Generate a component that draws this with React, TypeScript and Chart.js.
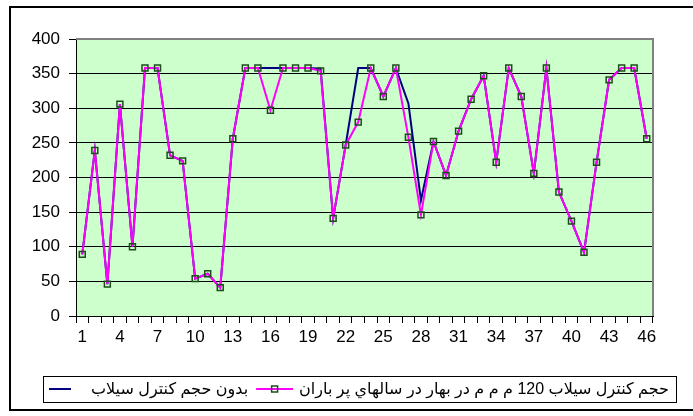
import { useEffect, useRef } from "react";
import { Chart, registerables } from "chart.js";

Chart.register(...registerables);

const categories = [
  "1", "2", "3", "4", "5", "6", "7", "8", "9", "10",
  "11", "12", "13", "14", "15", "16", "17", "18", "19", "20",
  "21", "22", "23", "24", "25", "26", "27", "28", "29", "30",
  "31", "32", "33", "34", "35", "36", "37", "38", "39", "40",
  "41", "42", "43", "44", "45", "46",
];

// بدون حجم کنترل سیلاب
const withoutControl = [
  89, 239, 46, 306, 100, 358, 358, 232, 224, 54,
  61, 41, 256, 358, 358, 358, 358, 358, 358, 357,
  141, 247, 358, 358, 317, 358, 307, 167, 252, 203,
  267, 313, 347, 222, 358, 317, 206, 358, 179, 137,
  92, 222, 341, 358, 358, 256,
];

// حجم کنترل سیلاب 120 م م م در بهار در سالهاي پر باران
const withControl = [
  89, 239, 46, 306, 100, 358, 358, 232, 224, 54,
  61, 41, 256, 358, 358, 297, 358, 358, 358, 354,
  141, 247, 280, 358, 317, 358, 258, 146, 252, 203,
  267, 313, 347, 222, 358, 317, 206, 358, 179, 137,
  92, 222, 341, 358, 358, 256,
];

const seriesNames = [
  "بدون حجم کنترل سیلاب",
  "حجم کنترل سیلاب 120 م م م در بهار در سالهاي پر باران",
];

const yMin = 0;
const yMax = 400;
const yStep = 50;
const xLabelEvery = 3;

const NAVY = "#000080";
const MAGENTA = "#FF00FF";
const MARKER_BORDER = "#1b4d1b";
const FONT = '"Liberation Sans", Arial, "DejaVu Sans", sans-serif';

const framePlugin = {
  id: "frame",
  beforeDraw(chart: any) {
    const { ctx, chartArea } = chart;
    ctx.save();
    ctx.fillStyle = "#ffffff";
    ctx.fillRect(0, 0, chart.width, chart.height);
    ctx.fillStyle = "#CCFFCC";
    ctx.fillRect(chartArea.left, chartArea.top, chartArea.right - chartArea.left, chartArea.bottom - chartArea.top);
    ctx.restore();
  },
  afterDraw(chart: any) {
    const { ctx, chartArea } = chart;
    ctx.save();
    // plot area top/right border (gray)
    ctx.strokeStyle = "#808080";
    ctx.lineWidth = 2;
    ctx.beginPath();
    ctx.moveTo(chartArea.left, chartArea.top);
    ctx.lineTo(chartArea.right, chartArea.top);
    ctx.lineTo(chartArea.right, chartArea.bottom);
    ctx.stroke();
    // outer chart border
    ctx.strokeStyle = "#000000";
    ctx.lineWidth = 2;
    ctx.strokeRect(10, 7, chart.width + 10, chart.height - 13);

    // legend
    const boxLeft = 43;
    const boxRight = 676;
    const boxTop = 376;
    const boxBottom = 402;
    ctx.lineWidth = 1;
    ctx.strokeRect(boxLeft + 0.5, boxTop + 0.5, boxRight - boxLeft, boxBottom - boxTop);
    const cy = (boxTop + boxBottom) / 2;
    ctx.font = `16px ${FONT}`;
    ctx.fillStyle = "#000";
    ctx.textBaseline = "middle";
    ctx.textAlign = "left";
    (ctx as any).direction = "rtl";

    let x = boxLeft + 6;
    // navy symbol
    ctx.strokeStyle = NAVY;
    ctx.lineWidth = 2;
    ctx.beginPath();
    ctx.moveTo(x, cy);
    ctx.lineTo(x + 22, cy);
    ctx.stroke();
    x += 22 + 20;
    const w1 = ctx.measureText(seriesNames[0]).width;
    ctx.fillText(seriesNames[0], x, cy + 1);
    x += w1 + 8;
    // magenta symbol
    ctx.strokeStyle = MAGENTA;
    ctx.beginPath();
    ctx.moveTo(x, cy);
    ctx.lineTo(x + 37, cy);
    ctx.stroke();
    ctx.strokeStyle = MARKER_BORDER;
    ctx.lineWidth = 1.5;
    ctx.strokeRect(x + 18.5 - 3, cy - 3, 6, 6);
    x += 37 + 6;
    ctx.fillText(seriesNames[1], x, cy + 1);
    ctx.restore();
  },
};

export default function App() {
  const ref = useRef<HTMLCanvasElement | null>(null);

  useEffect(() => {
    if (!ref.current) return;
    const chart = new Chart(ref.current, {
      type: "line",
      data: {
        labels: categories,
        datasets: [
          {
            label: seriesNames[0],
            data: withoutControl,
            borderColor: NAVY,
            backgroundColor: NAVY,
            borderWidth: 2,
            pointRadius: 0,
            tension: 0,
            order: 1,
          },
          {
            label: seriesNames[1],
            data: withControl,
            borderColor: MAGENTA,
            backgroundColor: "rgba(0,0,0,0)",
            borderWidth: 2,
            pointStyle: "rect",
            pointRadius: 4.2,
            pointBorderColor: MARKER_BORDER,
            pointBackgroundColor: "rgba(0,0,0,0)",
            pointBorderWidth: 1.5,
            tension: 0,
            order: 0,
          },
        ],
      },
      options: {
        responsive: false,
        animation: false,
        devicePixelRatio: 1,
        layout: { padding: { left: 0, right: 40, top: 39, bottom: 0 } },
        plugins: {
          legend: { display: false },
          tooltip: { enabled: false },
        },
        scales: {
          x: {
            type: "category",
            offset: true,
            afterFit: (s: any) => {
              s.height = 100;
            },
            grid: {
              display: true,
              offset: true,
              drawOnChartArea: false,
              drawTicks: true,
              tickLength: 7,
              color: "#000",
            },
            border: { display: true, color: "#000", width: 1 },
            ticks: {
              autoSkip: false,
              maxRotation: 0,
              minRotation: 0,
              padding: 4,
              color: "#000",
              font: { family: FONT, size: 17 },
              callback: (_v: any, i: number) => (i % xLabelEvery === 0 ? categories[i] : ""),
            },
          },
          y: {
            min: yMin,
            max: yMax,
            afterFit: (s: any) => {
              s.width = 76;
            },
            grid: {
              color: "#000",
              lineWidth: 1,
              drawTicks: true,
              tickLength: 7,
              tickColor: "#000",
            },
            border: { display: true, color: "#000", width: 1 },
            ticks: {
              stepSize: yStep,
              padding: 9,
              color: "#000",
              font: { family: FONT, size: 17 },
            },
          },
        },
      },
      plugins: [framePlugin],
    });
    return () => chart.destroy();
  }, []);

  return (
    <div style={{ position: "absolute", left: 0, top: 0, width: 693, height: 416, background: "#fff" }}>
      <canvas ref={ref} width={693} height={416} style={{ display: "block" }} />
    </div>
  );
}
